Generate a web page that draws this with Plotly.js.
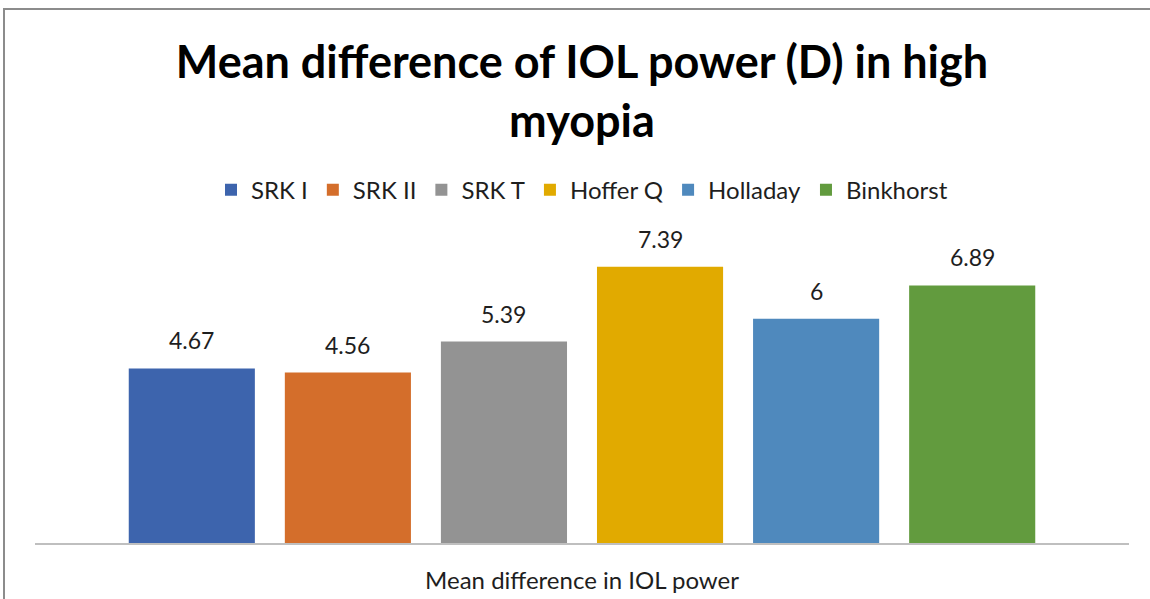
<!DOCTYPE html>
<html>
<head>
<meta charset="utf-8">
<script src="https://cdn.plot.ly/plotly-3.0.1.min.js"></script>
<style>
  body { margin: 0; background: #fff; }
  #frame { position: absolute; left: 3px; top: 8px; width: 1147px; height: 591px;
           border-top: 2px solid #8c8c8c; border-left: 2px solid #8c8c8c; box-sizing: border-box; }
  #chart { position: absolute; left: 0; top: 0; width: 1150px; height: 599px; }
</style>
</head>
<body>
<div id="frame"></div>
<div id="chart"></div>
<script>
// Formulas and their mean difference of IOL power (D)
const category = ['Mean difference in IOL power'];
const formulas = ['SRK I', 'SRK II', 'SRK T', 'Hoffer Q', 'Holladay', 'Binkhorst'];
const meanDiff = [4.67, 4.56, 5.39, 7.39, 6, 6.89];
const colors = ['#3D64AD', '#D46E2B', '#939393', '#E1AA00', '#4F89BD', '#629B3E'];

const fontFamily = 'Lato, "Open Sans", sans-serif';
const textColor = '#1e1e1e';
const bargap = 0.144;

const traces = formulas.map((name, i) => ({
    type: 'bar',
    name: name,
    x: category,
    y: [meanDiff[i]],
    marker: { color: colors[i] },
    hoverinfo: 'skip'
}));

// value labels: one per bar, centred on the bar's slot inside the group
const slot = (1 - bargap) / formulas.length;
const labels = meanDiff.map((v, i) => ({
    xref: 'x',
    yref: 'y',
    x: -(1 - bargap) / 2 + (i + 0.5) * slot,
    y: v,
    yanchor: 'middle',
    yshift: 28,
    text: String(v),
    showarrow: false,
    font: { family: fontFamily, size: 23, color: textColor }
}));

const layout = {
    width: 1150,
    height: 599,
    paper_bgcolor: 'rgba(0,0,0,0)',
    plot_bgcolor: 'rgba(0,0,0,0)',
    font: { family: fontFamily, color: textColor },
    margin: { l: 35, r: 21, t: 244, b: 56 },
    title: {
        text: '<b>Mean difference of IOL power (D) in high<br>myopia</b>',
        font: { family: fontFamily, size: 45, color: '#000' },
        x: 0.5,
        xref: 'paper',
        y: 0.869,
        yanchor: 'middle'
    },
    barmode: 'group',
    bargap: bargap,
    bargroupgap: 0.192,
    showlegend: true,
    legend: {
        orientation: 'h',
        x: 0.5,
        xanchor: 'center',
        y: 1.18,
        yanchor: 'middle',
        font: { family: fontFamily, size: 24, color: textColor },
        itemwidth: 30,
        traceorder: 'normal'
    },
    annotations: labels,
    xaxis: {
        showline: true,
        linecolor: '#bfbfbf',
        linewidth: 2,
        ticks: '',
        ticklabelstandoff: 15,
        tickfont: { family: fontFamily, size: 24, color: textColor },
        fixedrange: true
    },
    yaxis: {
        range: [0, 8],
        visible: false,
        showgrid: false,
        zeroline: false,
        fixedrange: true
    }
};

Plotly.newPlot('chart', traces, layout, { displayModeBar: false, staticPlot: true });
</script>
</body>
</html>
